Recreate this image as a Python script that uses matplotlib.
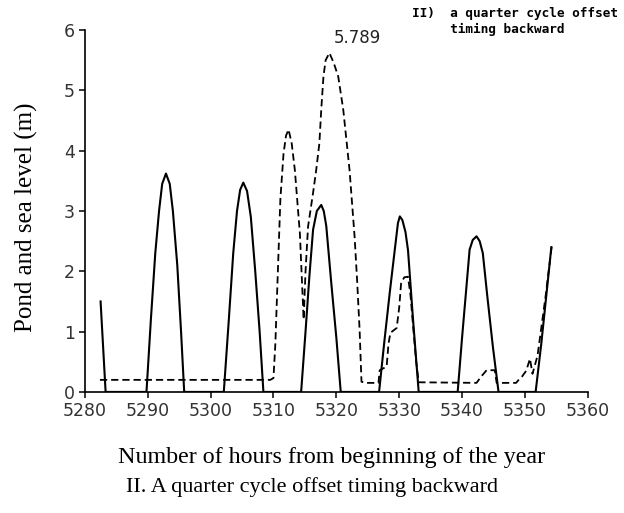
import matplotlib.pyplot as plt

# sea level (solid) - hours from start of year vs level (m)
sea_hours = [5282.5, 5283.3, 5289.8,
             5290.5, 5291.2, 5291.8, 5292.3, 5292.9, 5293.5, 5294.0, 5294.7, 5295.3, 5295.8,
             5302.1,
             5302.9, 5303.6, 5304.2, 5304.7, 5305.2, 5305.8, 5306.4, 5307.1, 5307.8, 5308.4,
             5314.4,
             5315.1, 5315.7, 5316.3, 5316.9, 5317.6, 5318.0, 5318.4, 5319.2, 5320.0, 5320.7,
             5326.8,
             5327.6, 5328.5, 5329.3, 5329.8, 5330.1, 5330.5, 5331.0, 5331.4, 5332.2, 5333.1,
             5339.3,
             5340.0, 5340.7, 5341.2, 5341.7, 5342.3, 5342.8, 5343.3, 5344.0, 5344.9, 5345.8,
             5351.7,
             5352.6, 5353.4, 5354.2]
sea_level = [1.5, 0.0, 0.0,
             1.2, 2.3, 3.0, 3.45, 3.62, 3.45, 3.0, 2.1, 1.0, 0.0,
             0.0,
             1.2, 2.3, 3.0, 3.35, 3.47, 3.33, 2.9, 2.0, 1.0, 0.0,
             0.0,
             1.0, 1.9, 2.69, 3.0, 3.1, 3.0, 2.75, 1.8, 0.9, 0.0,
             0.0,
             0.8, 1.65, 2.36, 2.8, 2.91, 2.85, 2.65, 2.35, 1.2, 0.0,
             0.0,
             0.9, 1.75, 2.36, 2.52, 2.58, 2.5, 2.3, 1.6, 0.75, 0.0,
             0.0,
             0.8, 1.6, 2.4]

# pond level (dashed)
pond_hours = [5282.4, 5309.5, 5310.0, 5310.3, 5310.7, 5311.1, 5311.6, 5312.0, 5312.4,
              5312.9, 5313.4, 5314.2, 5314.8, 5315.1, 5315.5, 5316.3, 5316.8, 5317.3,
              5317.6, 5317.95, 5318.3, 5318.9, 5319.6, 5320.3, 5321.1, 5322.1, 5322.9,
              5323.3, 5323.7, 5324.0, 5324.5, 5326.7, 5326.9, 5328.0, 5328.3, 5328.6,
              5329.6, 5330.0, 5330.3, 5330.8, 5331.4, 5331.8, 5332.2, 5332.7, 5333.1,
              5342.3, 5343.0, 5343.9, 5345.2, 5345.5, 5348.6, 5349.0, 5349.5, 5350.2,
              5350.8, 5351.2, 5352.0, 5353.3, 5354.3]
pond_level = [0.2, 0.2, 0.23, 0.8, 2.0, 3.2, 3.95, 4.25, 4.35,
              4.12, 3.68, 2.63, 1.2, 2.0, 2.74, 3.3, 3.68, 4.12,
              4.68, 5.23, 5.5, 5.62, 5.45, 5.23, 4.68, 3.68, 2.58,
              1.86, 1.03, 0.17, 0.15, 0.15, 0.36, 0.42, 0.8, 0.98,
              1.06, 1.4, 1.8, 1.9, 1.91, 1.6, 1.1, 0.5, 0.16,
              0.15, 0.25, 0.36, 0.36, 0.15, 0.15, 0.2, 0.25, 0.35,
              0.55, 0.3, 0.6, 1.6, 2.45]

peak_value = 5.789
x_ticks = [5280, 5290, 5300, 5310, 5320, 5330, 5340, 5350, 5360]
y_ticks = [0, 1, 2, 3, 4, 5, 6]

fig = plt.figure(figsize=(6.24, 5.13), dpi=100)
ax = fig.add_axes([0.136, 0.236, 0.806, 0.7055])

ax.plot(sea_hours, sea_level, color='black', lw=1.5, solid_joinstyle='round')
ax.plot(pond_hours, pond_level, color='black', lw=1.3, linestyle=(0, (4, 2.2)))

ax.text(5319.6, 5.87, f'{peak_value:.3f}', fontsize=12, color='#222222',
        ha='left', va='center')

ax.set_xlim(5280, 5360)
ax.set_ylim(0, 6)
ax.set_xticks(x_ticks)
ax.set_yticks(y_ticks)
for s in ['top', 'right']:
    ax.spines[s].set_visible(False)
for s in ['left', 'bottom']:
    ax.spines[s].set_linewidth(1.2)
ax.tick_params(direction='out', length=4, width=1.1, labelsize=12.5,
               labelcolor='#333333', pad=3)

serif = ['Liberation Serif', 'DejaVu Serif']
ax.set_xlabel('Number of hours from beginning of the year', family=serif, fontsize=17.3)
ax.xaxis.set_label_coords(0.49, -0.152)
ax.set_ylabel('Pond and sea level (m)', family=serif, fontsize=18)
ax.yaxis.set_label_coords(-0.093, 0.483)

fig.text(0.5, 1 - 487 / 513, 'II. A quarter cycle offset timing backward',
         family=serif, fontsize=16, ha='center', va='center')
fig.text(412 / 624, 1 - 7 / 513, 'II)  a quarter cycle offset\n     timing backward',
         family='DejaVu Sans Mono', fontweight='bold', fontsize=9.2,
         ha='left', va='top', linespacing=1.3)

fig.savefig('out.png', dpi=100)
